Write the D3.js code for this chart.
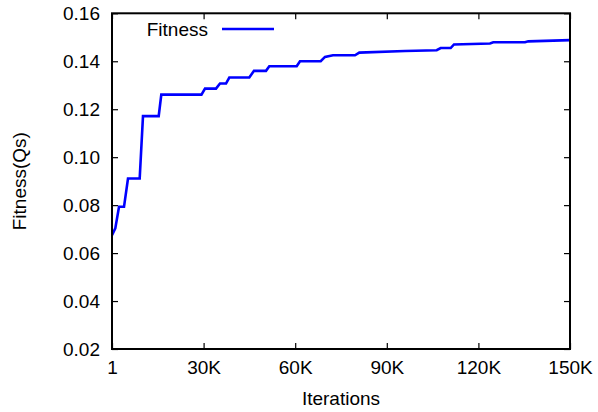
<!DOCTYPE html>
<html><head><meta charset="utf-8">
<script src="https://cdn.jsdelivr.net/npm/d3@7"></script>
<style>
body{margin:0;background:#fff;}
text{font-family:"Liberation Sans",Arial,Helvetica,sans-serif;fill:#000;}
</style></head>
<body><svg id="c" width="598" height="412"></svg>
<script>
const iterations = [1,1080,2300,3930,5240,9070,10150,15290,16150,29300,30460,34060,35370,37340,38420,44970,46500,50430,51520,60490,61570,68350,69760,72380,79580,80990,95960,106340,107650,110920,112000,123800,124870,135260,136340,150000];
const fitness = [0.0675,0.0703,0.0793,0.0793,0.0911,0.0911,0.1171,0.1171,0.1261,0.1261,0.1286,0.1286,0.1307,0.1307,0.1332,0.1332,0.1360,0.1360,0.1379,0.1379,0.1400,0.1400,0.1418,0.1425,0.1425,0.1436,0.1443,0.1446,0.1455,0.1455,0.1470,0.1474,0.1479,0.1479,0.1483,0.1488];
const xTicks = [0,30000,60000,90000,120000,150000];
const xTickLabels = ["1","30K","60K","90K","120K","150K"];
const yTicks = [0.02,0.04,0.06,0.08,0.10,0.12,0.14,0.16];
const seriesName = "Fitness";

const svg = d3.select("#c");
const L=112, R=570, T=13.3, B=349;
const x = d3.scaleLinear().domain([0,150000]).range([L,R]);
const y = d3.scaleLinear().domain([0.02,0.16]).range([B,T]);
const fs = 19;

// ticks (inward, mirrored)
const tl = 6;
const xAxisB = d3.axisBottom(x).tickValues(xTicks).tickSizeInner(-tl).tickSizeOuter(0).tickPadding(12)
  .tickFormat((d,i)=>xTickLabels[i]);
const gB = svg.append("g").attr("transform",`translate(0,${B})`).call(xAxisB);
const xAxisT = d3.axisTop(x).tickValues(xTicks).tickSizeInner(-tl).tickSizeOuter(0).tickFormat("");
const gT = svg.append("g").attr("transform",`translate(0,${T})`).call(xAxisT);
const yAxisL = d3.axisLeft(y).tickValues(yTicks).tickSizeInner(-tl).tickSizeOuter(0).tickPadding(12)
  .tickFormat(d3.format(".2f"));
const gL = svg.append("g").attr("transform",`translate(${L},0)`).call(yAxisL);
const yAxisR = d3.axisRight(y).tickValues(yTicks).tickSizeInner(-tl).tickSizeOuter(0).tickFormat("");
const gR = svg.append("g").attr("transform",`translate(${R},0)`).call(yAxisR);
[gB,gT,gL,gR].forEach(g=>{
  g.select(".domain").remove();
  g.selectAll(".tick line").attr("stroke","#000").attr("stroke-width",1.2);
  g.selectAll(".tick text").style("font-size",fs+"px").attr("fill","#000")
   .style("font-family",'"Liberation Sans",Arial,sans-serif');
});
gB.selectAll(".tick text").attr("dy","0.71em");

// line
const line = d3.line().x((d,i)=>x(iterations[i])).y(d=>y(d));
svg.append("path").datum(fitness).attr("d",line).attr("fill","none")
  .attr("stroke","#0000ff").attr("stroke-width",2.6).attr("stroke-linejoin","miter");

// frame
svg.append("rect").attr("x",L).attr("y",T).attr("width",R-L).attr("height",B-T)
  .attr("fill","none").attr("stroke","#000").attr("stroke-width",2);

// legend
svg.append("text").attr("x",208).attr("y",29).attr("dy","0.35em").attr("text-anchor","end")
  .style("font-size",fs+"px").text(seriesName);
svg.append("line").attr("x1",222).attr("x2",274).attr("y1",29).attr("y2",29)
  .attr("stroke","#0000ff").attr("stroke-width",2.6);

// axis titles
svg.append("text").attr("x",(L+R)/2).attr("y",398).attr("dy","0.35em").attr("text-anchor","middle")
  .style("font-size",fs+"px").text("Iterations");
svg.append("text").attr("transform",`translate(19,${(T+B)/2}) rotate(-90)`).attr("dy","0.35em")
  .attr("text-anchor","middle").style("font-size",fs+"px").text("Fitness(Qs)");
</script></body></html>
